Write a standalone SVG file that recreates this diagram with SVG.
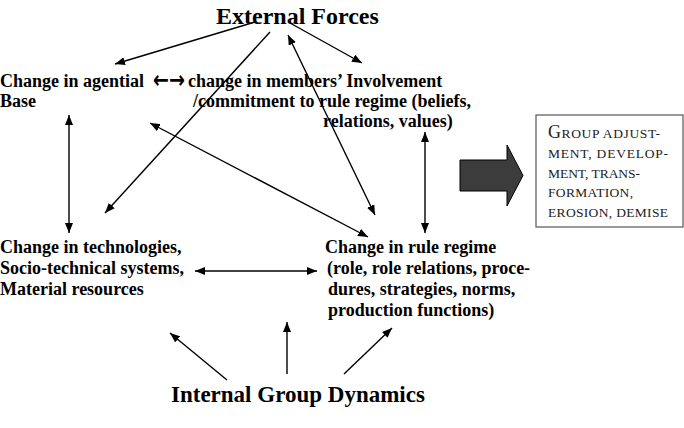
<svg xmlns="http://www.w3.org/2000/svg" width="684" height="428" viewBox="0 0 684 428">
<style>
.t{font-family:"Liberation Serif","Times New Roman",serif;font-weight:bold;font-size:18px;fill:#000}
.h{font-family:"Liberation Serif","Times New Roman",serif;font-weight:bold;fill:#000}
.sc{font-family:"Liberation Serif","Times New Roman",serif;font-size:13.5px;fill:#222}
.c{stroke:#000;stroke-width:1.4;fill:none}
.e{marker-end:url(#ah)}
.b{marker-start:url(#ah);marker-end:url(#ah)}
</style>
<defs>
<marker id="ah" viewBox="0 0 10 8" refX="10" refY="4" markerWidth="10" markerHeight="8" markerUnits="userSpaceOnUse" orient="auto-start-reverse">
<path d="M0,0 L10,4 L0,8 z" fill="#000"/>
</marker>
</defs>
<rect width="684" height="428" fill="#fff"/>
<g id="external">
<text class="h" x="216" y="24" font-size="24">External Forces</text>
</g>
<g id="agential">
<text class="t" x="0" y="87">Change in agential</text>
<text class="t" x="0" y="107">Base</text>
</g>
<g id="involvement">
<text x="153" y="88" font-family="DejaVu Sans, sans-serif" font-weight="bold" font-size="24" textLength="32" lengthAdjust="spacingAndGlyphs">←→</text>
<text class="t" x="188" y="87">change in members’ Involvement</text>
<text class="t" x="193" y="107">/commitment to rule regime (beliefs,</text>
<text class="t" x="323" y="127">relations, values)</text>
</g>
<g id="technologies">
<text class="t" x="0" y="253">Change in technologies,</text>
<text class="t" x="0" y="274">Socio-technical systems,</text>
<text class="t" x="0" y="295">Material resources</text>
</g>
<g id="ruleregime">
<text class="t" x="325" y="253">Change in rule regime</text>
<text class="t" x="327" y="274">(role, role relations, proce-</text>
<text class="t" x="328" y="295">dures, strategies, norms,</text>
<text class="t" x="328" y="316">production functions)</text>
</g>
<g id="internal">
<text class="h" x="171" y="402" font-size="23">Internal Group Dynamics</text>
</g>
<g id="bigarrow">
<path d="M460,160 L507,160 L507,145 L523,175.5 L507,206 L507,191 L460,191 z" fill="#3c3c3c" stroke="#000" stroke-width="1"/>
</g>
<g id="outcome">
<rect x="536" y="115" width="147" height="112" fill="#fff" stroke="#555" stroke-width="1.2"/>
<text class="sc" x="548" y="138" textLength="112" lengthAdjust="spacing"><tspan font-size="18">G</tspan>ROUP ADJUST-</text>
<text class="sc" x="548" y="158" textLength="120" lengthAdjust="spacing">MENT, DEVELOP-</text>
<text class="sc" x="548" y="178" textLength="92" lengthAdjust="spacing">MENT, TRANS-</text>
<text class="sc" x="548" y="197" textLength="85" lengthAdjust="spacing">FORMATION,</text>
<text class="sc" x="548" y="217" textLength="120" lengthAdjust="spacing">EROSION, DEMISE</text>
</g>
<g id="connectors">
<path class="c e" d="M255,22 L115,64"/>
<path class="c e" d="M290,23 L362,63"/>
<path class="c e" d="M270,32 L105,213"/>
<path class="c b" d="M288,35 L375,215"/>
<path class="c b" d="M150,123 L368,237"/>
<path class="c b" d="M69,115 L69,233"/>
<path class="c b" d="M425,132 L425,233"/>
<path class="c b" d="M195,271 L317,271"/>
<path class="c e" d="M227,380 L170,333"/>
<path class="c e" d="M287,374 L287,322"/>
<path class="c e" d="M344,374 L392,328"/>
</g>
</svg>
